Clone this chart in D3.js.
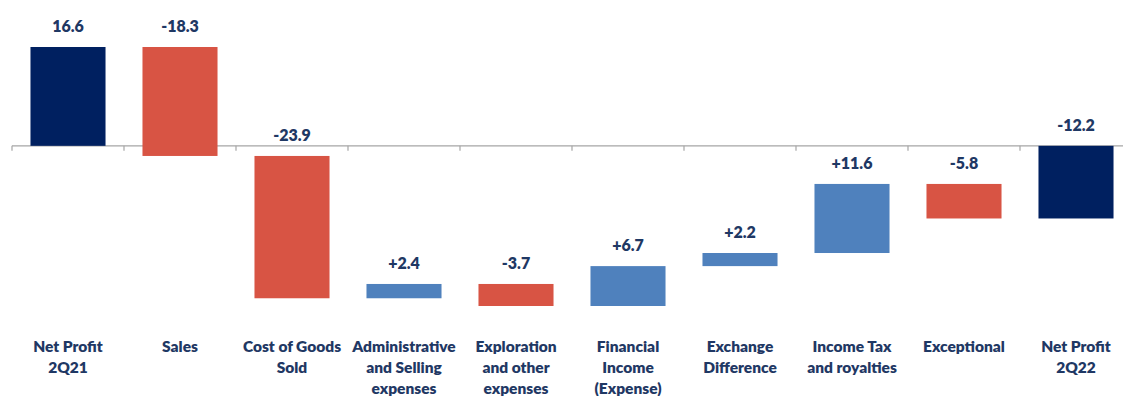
<!DOCTYPE html>
<html>
<head>
<meta charset="utf-8">
<script src="https://cdn.jsdelivr.net/npm/d3@7"></script>
<style>
	body { margin: 0; background: #fff; }
	text { font-family: Lato, "Open Sans", sans-serif; font-weight: 800; fill: #1f3864; }
</style>
</head>
<body>
<div id="container"></div>
<script>
// data
const categories = [
	["Net Profit", "2Q21"],
	["Sales"],
	["Cost of Goods", "Sold"],
	["Administrative", "and Selling", "expenses"],
	["Exploration", "and other", "expenses"],
	["Financial", "Income", "(Expense)"],
	["Exchange", "Difference"],
	["Income Tax", "and royalties"],
	["Exceptional"],
	["Net Profit", "2Q22"],
]
const values = [16.6, -18.3, -23.9, 2.4, -3.7, 6.7, 2.2, 11.6, -5.8, -12.2]
const kinds = ["total", "step", "step", "step", "step", "step", "step", "step", "step", "total"]
const labels = ["16.6", "-18.3", "-23.9", "+2.4", "-3.7", "+6.7", "+2.2", "+11.6", "-5.8", "-12.2"]

const width = 1123
const height = 396

// build waterfall rows
let running = 0
const rows = values.map((v, i) => {
	let y0, y1
	if (kinds[i] === "total") {
		y0 = 0
		y1 = v
		running = v
	} else {
		y0 = running
		y1 = running + v
		running = y1
	}
	return { i, v, y0, y1, kind: kinds[i], label: labels[i] }
})

const color = d => d.kind === "total" ? "#002060" : (d.v < 0 ? "#d85444" : "#4f81bd")

const svg = d3.select("#container")
	.append("svg")
	.attr("width", width)
	.attr("height", height)

const x = d3.scaleBand()
	.domain(d3.range(categories.length))
	.range([12, 1132])
	.paddingInner(0.33)
	.paddingOuter(0.165)

const y = d3.scaleLinear()
	.domain([-26.9, 16.6])
	.range([306, 47])

// axis line with ticks between categories
const step = x.step()
svg.append("line")
	.attr("x1", 12).attr("x2", width)
	.attr("y1", y(0)).attr("y2", y(0))
	.attr("stroke", "#a6a6a6")
	.attr("stroke-width", 1.2)

svg.selectAll(".tick")
	.data(d3.range(categories.length))
	.join("line")
	.attr("x1", i => 12 + i * step).attr("x2", i => 12 + i * step)
	.attr("y1", y(0)).attr("y2", y(0) + 5)
	.attr("stroke", "#a6a6a6")
	.attr("stroke-width", 1.2)

// bars
svg.selectAll(".bar")
	.data(rows)
	.join("rect")
	.attr("x", d => x(d.i))
	.attr("width", x.bandwidth())
	.attr("y", d => y(Math.max(d.y0, d.y1)))
	.attr("height", d => Math.abs(y(d.y0) - y(d.y1)))
	.attr("fill", color)

// value labels
svg.selectAll(".val")
	.data(rows)
	.join("text")
	.attr("x", d => x(d.i) + x.bandwidth() / 2)
	.attr("y", d => y(Math.max(d.y0, d.y1)) - 15)
	.attr("text-anchor", "middle")
	.style("font-size", "16px")
	.text(d => d.label)

// category labels
const cat = svg.selectAll(".cat")
	.data(categories)
	.join("text")
	.attr("text-anchor", "middle")
	.style("font-size", "15.5px")

cat.selectAll("tspan")
	.data((d, i) => d.map(t => ({ t, i })))
	.join("tspan")
	.attr("x", d => x(d.i) + x.bandwidth() / 2)
	.attr("y", (d, j) => 352 + j * 21)
	.text(d => d.t)
</script>
</body>
</html>
